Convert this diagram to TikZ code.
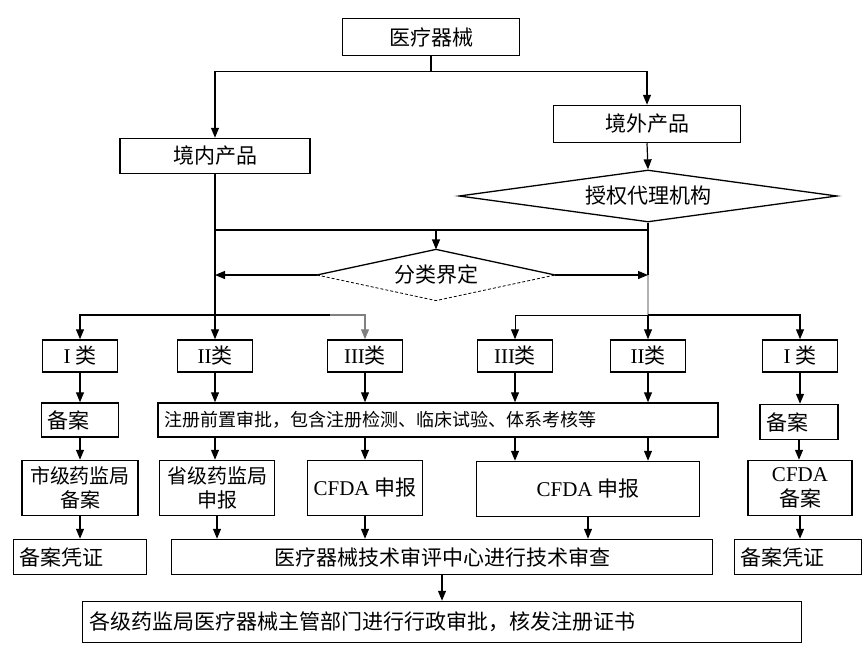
\documentclass[tikz,border=0pt]{standalone}
\usepackage{fontspec}
\setmainfont{Noto Sans CJK SC}
\newfontfamily\latin{Liberation Serif}
\usetikzlibrary{shapes.geometric,arrows.meta}

\begin{document}
\begin{tikzpicture}[x=1pt,y=-1pt,line width=1.2pt,>={Triangle[length=10pt,width=8pt]},font=\fontsize{21}{25}\selectfont,
box/.style n args={2}{draw,rectangle,line width=1.5pt,minimum width=#1,minimum height=#2,inner sep=0pt,align=center},
lbox/.style n args={3}{box={#1}{#2},text width=#3,align=left},
dia/.style n args={3}{diamond,aspect=#3,minimum width=#1,minimum height=#2,inner sep=0pt}]
\useasboundingbox (0,0) rectangle (865,672);
\node[box={177}{37}](top) at(431,37) {医疗器械};
\node[box={190}{35}](nei) at(215,156) {境内产品};
\node[box={187}{37}](wai) at(647,124) {境外产品};
\node[dia={378}{52}{7.2},draw,line width=1.3pt](agent) at(648,196) {授权代理机构};
\node[dia={237}{50}{4.7}](sort) at(436,275) {分类界定};
\draw[line width=1.3pt] (sort.west) -- (sort.north) -- (sort.east);
\draw[densely dashed,line width=0.8pt] (sort.west) -- (sort.south) -- (sort.east);
\coordinate (mid) at (436,230);
\coordinate (jl) at (215,315);
\coordinate (jr) at (648,315);
\foreach \n/\x/\t in %
{c1l/80/{\latin I} 类,c2l/215/{\latin II}类,c3l/365/{\latin III}类,c3r/515/{\latin III}类,c2r/648/{\latin II}类,c1r/800/{\latin I} 类} {
   \node[box={75}{32}](\n) at(\x,356) {\t};
}
\node[lbox={77}{34}{65}](rec1) at(80,420) {备案};
\node[lbox={560}{34}{548},font=\fontsize{18}{22}\selectfont](reg) at(438,420) {注册前置审批，包含注册检测、临床试验、体系考核等};
\node[lbox={78}{35}{66}](rec2) at(799,422) {备案};
\node[box={116}{55},font=\fontsize{20}{24}\selectfont](city) at(80,488) {市级药监局\\备案};
\node[box={115}{55},font=\fontsize{20}{24}\selectfont](prov) at(217,488) {省级药监局\\申报};
\node[box={115}{55}](cfda1) at(365,488) {{\latin CFDA} 申报};
\node[box={223}{55}](cfda2) at(588,489) {{\latin CFDA} 申报};
\node[box={104}{55}](cfda3) at(800,488) {{\latin CFDA}\\备案};
\node[lbox={133}{35}{121}](cert1) at(80,557) {备案凭证};
\node[box={541}{35}](review) at(442,557) {医疗器械技术审评中心进行技术审查};
\node[lbox={127}{35}{115}](cert2) at(798,557) {备案凭证};
\node[lbox={719}{41}{705}](fin) at(442,622) {各级药监局医疗器械主管部门进行行政审批，核发注册证书};
\draw[->] (top.south) -- ++(0,15) -| (nei.north);
\draw[->] (top.south) -- ++(0,15) -| (wai.north);
\draw[->] (wai.south) -- (agent.north);
\draw (nei.south) -- (jl);
\draw (agent.south) -- (agent.south |- sort.east);
\draw[gray!60] (agent.south |- sort.east) -- (jr);
\draw (nei.south |- mid) -- (agent.south |- mid);
\draw[->] (mid) -- (sort.north);
\draw[->] (sort.west) -- (nei.south |- sort.west);
\draw[->] (sort.east) -- (agent.south |- sort.east);
\draw[->] (jl) -| (c1l.north);
\draw[->] (jl) -- (c2l.north);
\draw[->,gray] (jl) -| (c3l.north);
\draw (jl) -- ++(115,0);
\draw[->,line width=1pt] (jr) -| (c3r.north);
\draw[->] (jr) -- (c2r.north);
\draw[->] (jr) -| (c1r.north);
\foreach \n in {c2l,c3l,c3r,c2r} {
   \draw[->] (\n.south) -- (\n.south |- reg.north);
}
\draw[->] (c1l.south) -- (rec1.north);
\draw[->] (c1r.south) -- (c1r.south |- rec2.north);
\draw[->] (rec1.south) -- (city.north);
\draw[->] (rec2.south) -- (rec2.south |- cfda3.north);
\draw[->] (reg.south -| c2l) -- (prov.north -| c2l);
\draw[->] (reg.south -| cfda1) -- (cfda1.north);
\draw[->] (reg.south -| c3r) -- (cfda2.north -| c3r);
\draw[->] (reg.south -| c2r) -- (cfda2.north -| c2r);
\draw[->] (city.south) -- (cert1.north);
\draw[->] (prov.south) -- (prov.south |- review.north);
\draw[->] (cfda1.south) -- (cfda1.south |- review.north);
\draw[->] (cfda2.south) -- (cfda2.south |- review.north);
\draw[->] (cfda3.south) -- (cfda3.south |- cert2.north);
\draw[->] (review.south) -- (fin.north);
\end{tikzpicture}
\end{document}
